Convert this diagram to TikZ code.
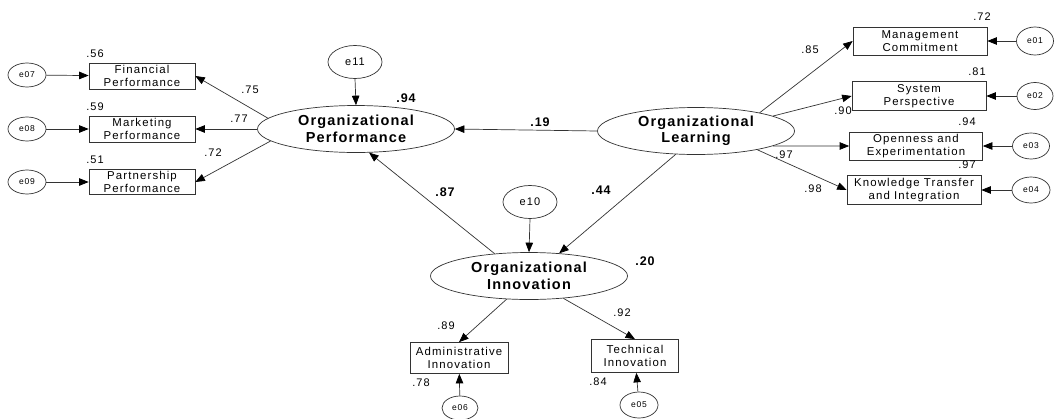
\documentclass[tikz,border=0pt]{standalone}
\usepackage{fontspec}
\usetikzlibrary{shapes.geometric,arrows.meta}
\newfontfamily\amos[LetterSpace=10]{Liberation Sans}
\newfontfamily\amosbold[LetterSpace=8]{Liberation Sans Bold}
\begin{document}
\begin{tikzpicture}[x=1pt,y=-1pt,
  line/.style={draw=black!80,line width=0.7pt},
  arr/.style={line,-{Triangle[length=9.5pt,width=7.5pt,color=black]}},
  obs/.style={draw=black!80,line width=0.7pt,rectangle,inner sep=0pt,align=center,
     font=\amos\fontsize{11.4}{12.5}\selectfont},
  lat/.style={draw=black!80,line width=0.7pt,ellipse,inner sep=0pt,align=center,
     minimum width=197pt,minimum height=47pt,font=\amosbold\fontsize{14.5}{16.5}\selectfont},
  err/.style={draw=black!80,line width=0.7pt,ellipse,inner sep=0pt,
     font=\amos\fontsize{8.5}{9}\selectfont},
  bigerr/.style={draw=black!80,line width=0.7pt,ellipse,inner sep=0pt,
     minimum width=54pt,minimum height=33pt,font=\amos\fontsize{11}{12}\selectfont},
  num/.style={inner sep=0pt,font=\amos\fontsize{11}{12}\selectfont},
  bnum/.style={inner sep=0pt,font=\amosbold\fontsize{12.5}{14}\selectfont}]
\fill[white] (0,0) rectangle (1059,418);
\path[use as bounding box] (0,0) rectangle (1059,418);

% latent variables
\node[lat] (OP) at (356,129) {Organizational\\Performance};
\node[lat] (OL) at (696,131) {Organizational\\Learning};
\node[lat] (OI) at (529,276) {Organizational\\Innovation};

% disturbances
\node[bigerr] (e11) at (355,62) {e11};
\node[bigerr] (e10) at (530,202) {e10};

% left indicators
\node[obs,minimum width=106pt,minimum height=26pt] (fin) at (142,76) {Financial\\Performance};
\node[obs,minimum width=106pt,minimum height=26pt] (mkt) at (142,129) {Marketing\\Performance};
\node[obs,minimum width=106pt,minimum height=25pt] (par) at (142,182) {Partnership\\Performance};
\node[err,minimum width=38pt,minimum height=24pt] (e07) at (27,75) {e07};
\node[err,minimum width=38pt,minimum height=24pt] (e08) at (27,129) {e08};
\node[err,minimum width=38pt,minimum height=24pt] (e09) at (27,182) {e09};

% right indicators
\node[obs,minimum width=134pt,minimum height=28pt] (mgm) at (920,41) {Management\\Commitment};
\node[obs,minimum width=134pt,minimum height=29pt] (sys) at (919,96) {System\\Perspective};
\node[obs,minimum width=133pt,minimum height=28pt] (opn) at (916,146) {Openness and\\Experimentation};
\node[obs,minimum width=134pt,minimum height=29pt] (kno) at (914,190) {Knowledge Transfer\\and Integration};
\node[err,minimum width=37pt,minimum height=28pt] (e01) at (1035,41) {e01};
\node[err,minimum width=36pt,minimum height=27pt] (e02) at (1035,96) {e02};
\node[err,minimum width=37pt,minimum height=26pt] (e03) at (1031,146) {e03};
\node[err,minimum width=38pt,minimum height=26pt] (e04) at (1031,190) {e04};

% bottom indicators
\node[obs,minimum width=98pt,minimum height=31pt] (adm) at (459,358) {Administrative\\Innovation};
\node[obs,minimum width=87pt,minimum height=33pt] (tec) at (635,356) {Technical\\Innovation};
\node[err,minimum width=36pt,minimum height=24pt] (e06) at (460,408) {e06};
\node[err,minimum width=38pt,minimum height=26pt] (e05) at (639,405) {e05};

% structural paths
\draw[arr] (OL.west) -- (OP.east);
\draw[arr] (OL.229) -- (OI.37);
\draw[arr] (OI.147) -- (OP.-61);
\draw[arr] (e11.south) -- (OP.north);
\draw[arr] (e10.south) -- (OI.north);

% measurement paths
\draw[arr] (OP.173) -- (fin.east);
\draw[arr] (OP.west) -- (mkt.east);
\draw[arr] (OP.188) -- (par.east);
\draw[arr] (e07) -- (fin);
\draw[arr] (e08) -- (mkt);
\draw[arr] (e09) -- (par);

\draw[arr] (OL.16) -- (mgm.west);
\draw[arr] (OL.11) -- (sys.west);
\draw[arr] (OL.-11) -- (opn.west);
\draw[arr] (OL.-17) -- (kno.west);
\draw[arr] (e01) -- (mgm);
\draw[arr] (e02) -- (sys);
\draw[arr] (e03) -- (opn);
\draw[arr] (e04) -- (kno);

\draw[arr] (OI.226) -- (adm.north);
\draw[arr] (OI.-33) -- (tec.north);
\draw[arr] (e06) -- (adm);
\draw[arr] (e05) -- (tec);

% bold coefficients
\node[bnum] (l94) at (406,98) {.94};
\node[bnum] (l19) at (540,122) {.19};
\node[bnum] (l87) at (445,192) {.87};
\node[bnum] (l44) at (601,190) {.44};
\node[bnum] (l20) at (645,261) {.20};

% small numbers
\node[num] (n56) at (95,54) {.56};
\node[num] (n59) at (95,107) {.59};
\node[num] (n51) at (95,160) {.51};
\node[num] (n75) at (250,90) {.75};
\node[num] (n77) at (239,119) {.77};
\node[num] (n72a) at (213,153) {.72};

\node[num] (n72) at (982,17) {.72};
\node[num] (n81) at (977,72) {.81};
\node[num] (n94) at (967,122) {.94};
\node[num] (n97) at (967,165) {.97};
\node[num] (n90) at (843,111) {.90};
\node[num] (n85) at (810,50) {.85};
\node[num] (n97b) at (784,155) {.97};
\node[num] (n98) at (813,189) {.98};

\node[num] (n89) at (446,326) {.89};
\node[num] (n92) at (622,313) {.92};
\node[num] (n78) at (421,383) {.78};
\node[num] (n84) at (598,382) {.84};
\end{tikzpicture}
\end{document}
